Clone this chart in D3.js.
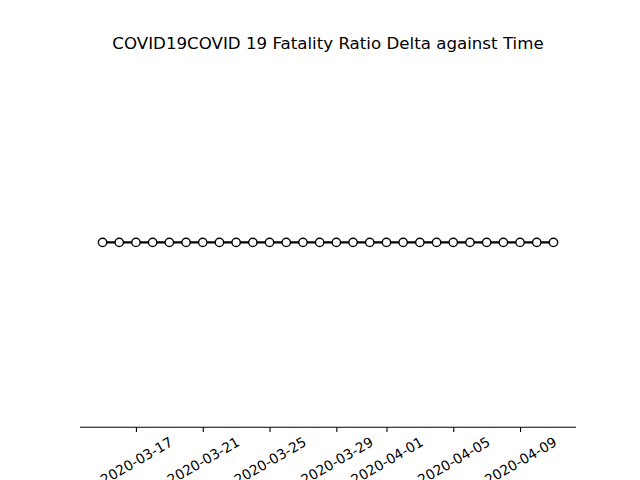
<!DOCTYPE html>
<html><head><meta charset="utf-8">
<script src="https://cdn.jsdelivr.net/npm/d3@7"></script>
<style>body{margin:0;background:#fff}</style>
</head><body>
<svg id="c" width="640" height="480"></svg>
<script>
const dates = ["2020-03-15","2020-03-16","2020-03-17","2020-03-18","2020-03-19","2020-03-20","2020-03-21","2020-03-22","2020-03-23","2020-03-24","2020-03-25","2020-03-26","2020-03-27","2020-03-28","2020-03-29","2020-03-30","2020-03-31","2020-04-01","2020-04-02","2020-04-03","2020-04-04","2020-04-05","2020-04-06","2020-04-07","2020-04-08","2020-04-09","2020-04-10","2020-04-11"];
const values = [0,0,0,0,0,0,0,0,0,0,0,0,0,0,0,0,0,0,0,0,0,0,0,0,0,0,0,0];
const tickLabels = ["2020-03-17","2020-03-21","2020-03-25","2020-03-29","2020-04-01","2020-04-05","2020-04-09"];
const title = "COVID19COVID 19 Fatality Ratio Delta against Time";

const parse = d3.utcParse("%Y-%m-%d");
const fmt = d3.utcFormat("%Y-%m-%d");
const data = dates.map((d,i)=>({t:parse(d), v:values[i]}));
const L=80, R=576, T=57.6, B=427.2;
const svg = d3.select("#c");
const t0 = data[0].t, t1 = data[data.length-1].t;
const span = t1 - t0;
const x = d3.scaleUtc().domain([new Date(+t0 - span*0.05), new Date(+t1 + span*0.05)]).range([L,R]);
const y = d3.scaleLinear().domain([-0.055,0.055]).range([B,T]);

const ax = svg.append("g").attr("transform",`translate(0,${B})`)
  .call(d3.axisBottom(x).tickValues(tickLabels.map(parse)).tickFormat(fmt).tickSizeOuter(0).tickSize(4.86).tickPadding(0));
ax.select(".domain").attr("stroke","#000").attr("stroke-width",1.1).attr("d",`M${L},0H${R}`);
ax.selectAll(".tick line").attr("stroke","#000").attr("stroke-width",1.1);
ax.selectAll(".tick text").attr("font-family","DejaVu Sans").attr("font-size","13.89px").attr("fill","#000")
  .attr("text-anchor","middle").attr("dominant-baseline","central").attr("y",0).attr("dy",null)
  .attr("transform","translate(0,33.5) rotate(-30)");

const line = d3.line().x(d=>x(d.t)).y(d=>y(d.v));
svg.append("path").datum(data).attr("d",line).attr("fill","none").attr("stroke","#000").attr("stroke-width",2.08);
svg.append("g").selectAll("circle").data(data).join("circle")
  .attr("cx",d=>x(d.t)).attr("cy",d=>y(d.v)).attr("r",4.17).attr("fill","#fff").attr("stroke","#000").attr("stroke-width",1.39);

svg.append("text").attr("x",(L+R)/2).attr("y",49.3).attr("text-anchor","middle")
  .attr("font-family","DejaVu Sans").attr("font-size","16.67px").attr("fill","#000").text(title);
</script>
</body></html>
